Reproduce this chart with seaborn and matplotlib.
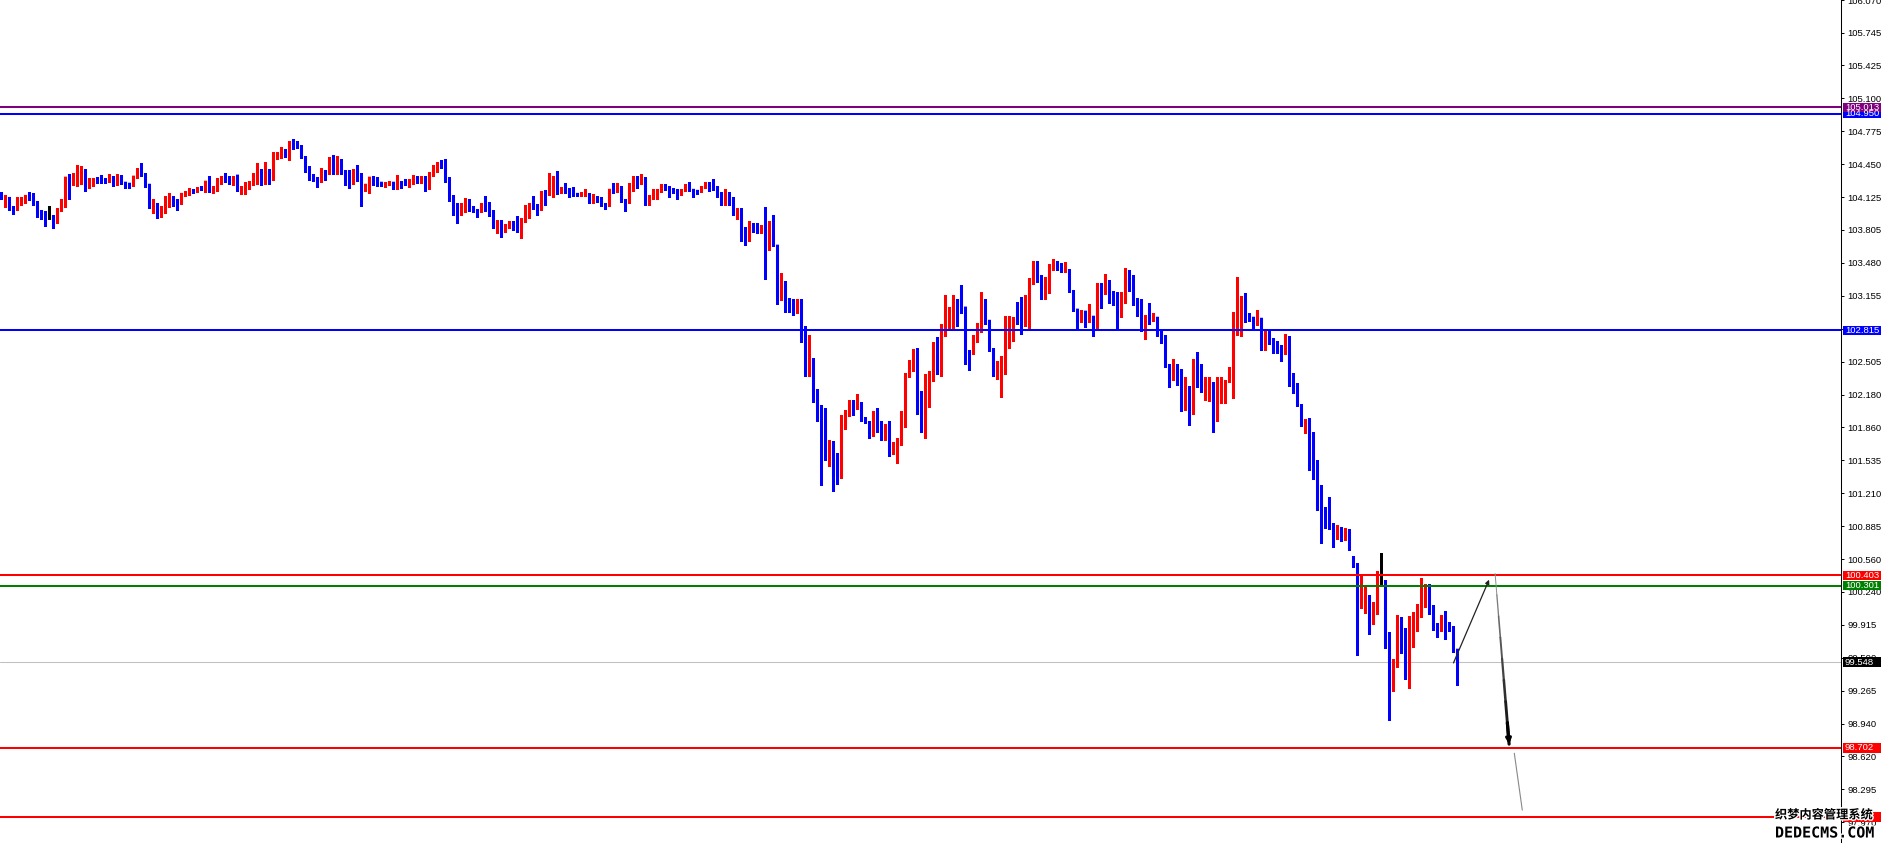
import numpy as np
import pandas as pd
import matplotlib
matplotlib.use("Agg")
import matplotlib.pyplot as plt
import seaborn as sns
from matplotlib.patches import Rectangle
from matplotlib.transforms import blended_transform_factory
import matplotlib.patheffects as pe

# ---------------- data ----------------
opens = [
    104.17, 104.12, 104.13, 104.03, 104.01, 104.09, 104.10, 104.15, 104.13, 104.07,
    103.98, 103.97, 103.94, 103.94, 103.88, 104.01, 104.04, 104.33, 104.28, 104.34,
    104.36, 104.38, 104.24, 104.28, 104.30, 104.30, 104.30, 104.29, 104.33, 104.28,
    104.34, 104.28, 104.27, 104.25, 104.33, 104.38, 104.36, 104.26, 104.06, 104.07,
    103.97, 104.01, 104.04, 104.13, 104.10, 104.07, 104.15, 104.16, 104.20, 104.19,
    104.22, 104.19, 104.29, 104.19, 104.20, 104.28, 104.32, 104.31, 104.28, 104.35,
    104.20, 104.21, 104.24, 104.26, 104.35, 104.40, 104.28, 104.38, 104.31, 104.52,
    104.53, 104.56, 104.53, 104.68, 104.66, 104.64, 104.53, 104.42, 104.34, 104.32,
    104.29, 104.39, 104.37, 104.47, 104.37, 104.46, 104.38, 104.35, 104.30, 104.40,
    104.34, 104.24, 104.25, 104.33, 104.32, 104.28, 104.24, 104.26, 104.28, 104.22,
    104.28, 104.28, 104.26, 104.28, 104.32, 104.30, 104.32, 104.28, 104.35, 104.39,
    104.46, 104.45, 104.31, 104.14, 104.04, 104.01, 104.03, 104.05, 104.03, 104.00,
    104.00, 104.07, 104.01, 104.00, 103.83, 103.88, 103.79, 103.85, 103.87, 103.86,
    103.83, 103.90, 103.93, 104.05, 104.04, 104.01, 104.18, 104.16, 104.22, 104.32,
    104.18, 104.21, 104.20, 104.19, 104.17, 104.15, 104.15, 104.16, 104.09, 104.13,
    104.09, 104.06, 104.05, 104.21, 104.19, 104.23, 104.11, 104.07, 104.20, 104.31,
    104.30, 104.32, 104.08, 104.14, 104.14, 104.20, 104.24, 104.23, 104.20, 104.19,
    104.17, 104.20, 104.24, 104.21, 104.20, 104.19, 104.23, 104.25, 104.23, 104.23,
    104.17, 104.06, 104.15, 104.06, 103.96, 103.96, 103.74, 103.71, 103.85, 103.84,
    103.79, 103.83, 103.64, 103.76, 103.66, 103.14, 103.26, 103.09, 103.08, 103.01,
    103.11, 102.77, 102.38, 102.53, 102.19, 102.05, 101.95, 101.61, 101.65, 101.56,
    101.37, 101.88, 101.98, 102.09, 102.05, 102.10, 101.94, 101.92, 101.80, 102.00,
    101.85, 101.80, 101.88, 101.63, 101.66, 101.71, 102.00, 102.37, 102.45, 102.53,
    102.13, 101.98, 102.26, 102.40, 102.58, 102.41, 102.80, 102.99, 102.99, 103.12,
    103.26, 103.05, 102.60, 102.59, 102.75, 102.81, 103.08, 102.92, 102.64, 102.41,
    102.50, 102.53, 102.67, 102.88, 102.93, 102.91, 102.89, 103.11, 103.32, 103.45,
    103.34, 103.22, 103.25, 103.44, 103.47, 103.43, 103.41, 103.42, 103.21, 103.03,
    102.91, 103.01, 102.91, 102.96, 102.84, 103.27, 103.18, 103.27, 103.19, 103.09,
    102.99, 103.10, 103.32, 103.26, 103.10, 103.08, 102.94, 102.95, 102.93, 102.95,
    102.82, 102.77, 102.46, 102.40, 102.44, 102.43, 102.04, 102.13, 102.03, 102.46,
    102.35, 102.26, 102.27, 102.30, 101.96, 102.20, 102.28, 102.32, 102.40, 102.78,
    102.88, 103.12, 102.97, 102.95, 102.87, 102.94, 102.63, 102.78, 102.73, 102.67,
    102.63, 102.59, 102.67, 102.31, 102.27, 102.09, 101.88, 101.94, 101.77, 101.50,
    101.07, 101.04, 100.98, 100.88, 100.80, 100.86, 100.78, 100.84, 100.58, 100.50,
    100.13, 100.17, 100.20, 99.92, 100.03, 100.35, 100.35, 99.73, 99.30, 99.51,
    99.91, 99.86, 99.41, 99.71, 99.95, 100.02, 100.15, 100.30, 100.10, 99.89,
    99.86, 100.00, 99.93, 99.89, 99.68,
]
highs = [
    104.18, 104.15, 104.13, 104.04, 104.13, 104.13, 104.15, 104.18, 104.17, 104.09,
    104.00, 103.99, 104.04, 103.95, 104.02, 104.11, 104.33, 104.36, 104.37, 104.44,
    104.43, 104.41, 104.32, 104.32, 104.33, 104.35, 104.32, 104.36, 104.34, 104.36,
    104.35, 104.28, 104.27, 104.34, 104.42, 104.46, 104.37, 104.26, 104.11, 104.07,
    104.04, 104.14, 104.17, 104.14, 104.11, 104.17, 104.19, 104.22, 104.21, 104.23,
    104.24, 104.29, 104.34, 104.24, 104.32, 104.34, 104.37, 104.34, 104.34, 104.35,
    104.24, 104.28, 104.29, 104.37, 104.46, 104.41, 104.47, 104.41, 104.57, 104.57,
    104.62, 104.60, 104.68, 104.70, 104.68, 104.64, 104.53, 104.43, 104.36, 104.33,
    104.42, 104.40, 104.52, 104.54, 104.53, 104.50, 104.40, 104.40, 104.41, 104.44,
    104.37, 104.26, 104.33, 104.34, 104.33, 104.28, 104.28, 104.29, 104.28, 104.35,
    104.29, 104.31, 104.31, 104.35, 104.34, 104.34, 104.34, 104.38, 104.44, 104.47,
    104.49, 104.50, 104.33, 104.15, 104.07, 104.07, 104.12, 104.11, 104.04, 104.01,
    104.07, 104.14, 104.08, 104.00, 103.90, 103.90, 103.86, 103.89, 103.89, 103.94,
    103.92, 104.05, 104.07, 104.14, 104.06, 104.19, 104.20, 104.37, 104.34, 104.39,
    104.23, 104.27, 104.22, 104.23, 104.17, 104.18, 104.21, 104.17, 104.16, 104.14,
    104.13, 104.07, 104.21, 104.27, 104.27, 104.24, 104.11, 104.27, 104.34, 104.34,
    104.36, 104.33, 104.15, 104.21, 104.21, 104.26, 104.26, 104.24, 104.22, 104.21,
    104.21, 104.26, 104.28, 104.21, 104.20, 104.24, 104.28, 104.28, 104.31, 104.24,
    104.18, 104.21, 104.18, 104.13, 104.02, 104.02, 103.83, 103.89, 103.87, 103.87,
    103.85, 104.03, 103.89, 103.95, 103.66, 103.38, 103.30, 103.13, 103.12, 103.12,
    103.12, 102.86, 102.77, 102.54, 102.24, 102.08, 102.05, 101.74, 101.73, 101.61,
    101.98, 102.03, 102.13, 102.13, 102.19, 102.11, 101.96, 101.92, 102.02, 102.05,
    101.92, 101.89, 101.92, 101.72, 101.76, 102.02, 102.40, 102.52, 102.63, 102.64,
    102.22, 102.39, 102.42, 102.70, 102.75, 102.88, 103.16, 103.05, 103.16, 103.12,
    103.26, 103.05, 102.62, 102.77, 102.89, 103.19, 103.12, 102.92, 102.64, 102.51,
    102.56, 102.96, 102.96, 102.95, 103.10, 103.14, 103.16, 103.33, 103.50, 103.50,
    103.36, 103.34, 103.47, 103.52, 103.50, 103.48, 103.49, 103.42, 103.21, 103.03,
    103.02, 103.01, 103.08, 102.96, 103.28, 103.28, 103.37, 103.31, 103.20, 103.19,
    103.19, 103.43, 103.41, 103.36, 103.13, 103.12, 102.97, 103.09, 102.99, 102.95,
    102.83, 102.77, 102.48, 102.53, 102.48, 102.44, 102.36, 102.27, 102.53, 102.60,
    102.48, 102.36, 102.36, 102.31, 102.36, 102.36, 102.33, 102.45, 103.00, 103.34,
    103.15, 103.18, 102.99, 102.95, 103.02, 102.94, 102.81, 102.82, 102.74, 102.71,
    102.67, 102.78, 102.76, 102.40, 102.30, 102.09, 101.94, 101.95, 101.81, 101.54,
    101.29, 101.08, 101.17, 100.92, 100.90, 100.88, 100.87, 100.86, 100.59, 100.52,
    100.40, 100.29, 100.21, 100.14, 100.45, 100.62, 100.36, 99.84, 99.58, 100.01,
    99.99, 99.88, 100.00, 100.04, 100.12, 100.38, 100.32, 100.32, 100.11, 99.93,
    100.01, 100.05, 99.94, 99.90, 99.68,
]
lows = [
    104.11, 104.03, 104.00, 103.96, 104.00, 104.05, 104.07, 104.10, 104.05, 103.93,
    103.91, 103.84, 103.91, 103.82, 103.87, 103.99, 104.03, 104.11, 104.25, 104.24,
    104.26, 104.19, 104.22, 104.24, 104.27, 104.27, 104.27, 104.28, 104.24, 104.25,
    104.26, 104.22, 104.22, 104.24, 104.32, 104.34, 104.23, 104.02, 103.97, 103.92,
    103.93, 103.97, 104.03, 104.04, 104.00, 104.06, 104.14, 104.15, 104.17, 104.18,
    104.20, 104.18, 104.18, 104.17, 104.19, 104.26, 104.28, 104.26, 104.25, 104.19,
    104.16, 104.16, 104.21, 104.25, 104.26, 104.25, 104.26, 104.26, 104.30, 104.50,
    104.51, 104.52, 104.49, 104.60, 104.61, 104.51, 104.38, 104.30, 104.29, 104.23,
    104.28, 104.30, 104.36, 104.36, 104.36, 104.36, 104.25, 104.22, 104.26, 104.29,
    104.04, 104.19, 104.17, 104.25, 104.24, 104.24, 104.23, 104.25, 104.21, 104.21,
    104.22, 104.25, 104.23, 104.26, 104.27, 104.27, 104.19, 104.21, 104.34, 104.38,
    104.42, 104.28, 104.09, 103.95, 103.87, 103.95, 103.98, 103.99, 103.98, 103.93,
    103.98, 103.99, 103.94, 103.82, 103.77, 103.74, 103.78, 103.82, 103.80, 103.78,
    103.73, 103.88, 103.92, 104.01, 103.95, 104.00, 104.05, 104.15, 104.13, 104.16,
    104.17, 104.17, 104.13, 104.14, 104.14, 104.14, 104.14, 104.07, 104.07, 104.08,
    104.04, 104.01, 104.04, 104.17, 104.18, 104.08, 103.99, 104.07, 104.19, 104.22,
    104.26, 104.05, 104.05, 104.11, 104.11, 104.18, 104.20, 104.13, 104.17, 104.11,
    104.15, 104.19, 104.19, 104.13, 104.16, 104.18, 104.22, 104.19, 104.20, 104.13,
    104.05, 104.05, 104.05, 103.95, 103.91, 103.70, 103.66, 103.70, 103.78, 103.77,
    103.77, 103.32, 103.61, 103.65, 103.08, 103.11, 103.00, 103.00, 102.97, 102.99,
    102.70, 102.37, 102.37, 102.11, 101.92, 101.29, 101.54, 101.48, 101.23, 101.30,
    101.36, 101.84, 101.97, 101.98, 102.04, 101.92, 101.90, 101.76, 101.78, 101.81,
    101.74, 101.74, 101.58, 101.60, 101.51, 101.69, 101.86, 102.36, 102.42, 101.99,
    101.81, 101.76, 102.06, 102.32, 102.39, 102.37, 102.76, 102.83, 102.83, 102.86,
    102.99, 102.48, 102.43, 102.58, 102.70, 102.80, 102.88, 102.61, 102.37, 102.34,
    102.16, 102.39, 102.64, 102.71, 102.88, 102.78, 102.86, 102.84, 103.27, 103.29,
    103.12, 103.12, 103.18, 103.41, 103.41, 103.39, 103.39, 103.19, 103.01, 102.84,
    102.90, 102.85, 102.90, 102.76, 102.83, 103.04, 103.17, 103.09, 103.07, 102.84,
    102.95, 103.09, 103.20, 103.07, 102.96, 102.81, 102.73, 102.88, 102.91, 102.76,
    102.69, 102.45, 102.26, 102.33, 102.28, 102.02, 102.03, 101.88, 101.99, 102.26,
    102.21, 102.13, 102.12, 101.81, 101.92, 102.10, 102.10, 102.31, 102.15, 102.77,
    102.76, 102.90, 102.91, 102.83, 102.87, 102.62, 102.62, 102.68, 102.59, 102.59,
    102.51, 102.58, 102.27, 102.20, 102.07, 101.87, 101.80, 101.44, 101.35, 101.05,
    100.72, 100.87, 100.86, 100.68, 100.76, 100.74, 100.75, 100.65, 100.48, 99.62,
    100.08, 100.03, 99.82, 99.92, 100.02, 100.32, 99.69, 98.98, 99.26, 99.50,
    99.64, 99.38, 99.29, 99.70, 99.85, 99.99, 100.09, 100.02, 99.86, 99.80,
    99.85, 99.78, 99.85, 99.65, 99.32,
]
closes = [
    104.12, 104.13, 104.01, 104.01, 104.10, 104.12, 104.15, 104.12, 104.06, 103.98,
    103.97, 103.94, 103.94, 103.88, 104.02, 104.05, 104.33, 104.28, 104.35, 104.37,
    104.38, 104.24, 104.29, 104.30, 104.29, 104.29, 104.29, 104.33, 104.28, 104.34,
    104.27, 104.27, 104.26, 104.34, 104.38, 104.35, 104.25, 104.05, 104.08, 103.97,
    104.02, 104.05, 104.13, 104.08, 104.07, 104.17, 104.17, 104.20, 104.19, 104.22,
    104.21, 104.29, 104.19, 104.21, 104.29, 104.32, 104.30, 104.28, 104.30, 104.20,
    104.22, 104.25, 104.27, 104.35, 104.39, 104.28, 104.38, 104.31, 104.53, 104.55,
    104.56, 104.53, 104.68, 104.65, 104.62, 104.52, 104.41, 104.33, 104.31, 104.29,
    104.39, 104.37, 104.47, 104.38, 104.47, 104.37, 104.34, 104.31, 104.40, 104.33,
    104.25, 104.26, 104.33, 104.32, 104.28, 104.25, 104.27, 104.28, 104.22, 104.27,
    104.26, 104.26, 104.29, 104.32, 104.30, 104.32, 104.28, 104.36, 104.39, 104.45,
    104.44, 104.30, 104.14, 104.05, 104.01, 104.03, 104.05, 104.03, 103.99, 103.98,
    104.06, 104.00, 103.99, 103.83, 103.88, 103.79, 103.86, 103.87, 103.85, 103.83,
    103.91, 103.95, 104.05, 104.03, 104.01, 104.18, 104.16, 104.23, 104.32, 104.19,
    104.20, 104.19, 104.18, 104.16, 104.15, 104.16, 104.16, 104.09, 104.13, 104.09,
    104.06, 104.05, 104.21, 104.19, 104.23, 104.09, 104.08, 104.21, 104.31, 104.29,
    104.32, 104.08, 104.14, 104.16, 104.20, 104.25, 104.22, 104.20, 104.18, 104.17,
    104.20, 104.24, 104.20, 104.19, 104.18, 104.23, 104.25, 104.21, 104.22, 104.17,
    104.06, 104.15, 104.06, 103.96, 103.97, 103.74, 103.71, 103.85, 103.83, 103.79,
    103.83, 103.64, 103.76, 103.66, 103.14, 103.27, 103.08, 103.08, 103.01, 103.11,
    102.76, 102.38, 102.53, 102.20, 102.04, 101.94, 101.61, 101.65, 101.37, 101.37,
    101.89, 101.99, 102.09, 102.05, 102.10, 101.93, 101.91, 101.80, 102.00, 101.85,
    101.80, 101.88, 101.63, 101.66, 101.71, 102.01, 102.37, 102.45, 102.53, 102.12,
    101.98, 102.26, 102.40, 102.58, 102.42, 102.81, 102.99, 103.01, 103.02, 102.88,
    103.04, 102.59, 102.58, 102.76, 102.81, 103.08, 102.92, 102.63, 102.41, 102.51,
    102.54, 102.68, 102.88, 102.94, 102.90, 102.89, 103.12, 103.32, 103.45, 103.33,
    103.23, 103.25, 103.45, 103.47, 103.42, 103.41, 103.42, 103.20, 103.02, 102.91,
    103.01, 102.91, 102.96, 102.84, 103.27, 103.18, 103.27, 103.18, 103.08, 102.99,
    103.11, 103.32, 103.25, 103.09, 103.07, 102.94, 102.95, 102.93, 102.95, 102.76,
    102.76, 102.46, 102.40, 102.44, 102.42, 102.04, 102.13, 102.03, 102.46, 102.35,
    102.26, 102.28, 102.30, 101.97, 102.20, 102.29, 102.32, 102.41, 102.78, 102.88,
    103.13, 102.96, 102.94, 102.87, 102.94, 102.63, 102.78, 102.72, 102.66, 102.60,
    102.59, 102.66, 102.31, 102.26, 102.08, 101.88, 101.94, 101.76, 101.49, 101.06,
    101.03, 100.98, 100.88, 100.80, 100.86, 100.78, 100.84, 100.66, 100.50, 100.14,
    100.19, 100.20, 99.92, 100.03, 100.35, 100.35, 99.72, 99.30, 99.52, 99.91,
    99.86, 99.41, 99.72, 99.96, 100.03, 100.16, 100.30, 100.09, 99.88, 99.81,
    100.00, 99.93, 99.88, 99.67, 99.548,
]

y_ticks = [106.070, 105.745, 105.425, 105.100, 104.775, 104.450, 104.125, 103.805,
           103.480, 103.155, 102.830, 102.505, 102.180, 101.860, 101.535, 101.210,
           100.885, 100.560, 100.240, 99.915, 99.590, 99.265, 98.940, 98.620,
           98.295, 97.970]

# horizontal levels (price, line colour, box colour)
level_prices = [104.950, 105.013, 102.815, 100.403, 100.301, 99.548, 98.702, 98.024]
level_line_colors = ["#0000FF", "#800080", "#0000FF", "#FF0000", "#008000",
                     "#C0C0C0", "#FF0000", "#FF0000"]
level_box_colors = ["#0000FF", "#800080", "#0000FF", "#FF0000", "#008000",
                    "#000000", "#FF0000", "#FF0000"]

# hand-drawn projection arrows: (bar index, price) start -> end
arrow_starts = [(363.0, 99.54), (373.4, 100.42), (378.2, 98.65)]
arrow_ends = [(371.9, 100.36), (376.9, 98.74), (380.2, 98.09)]

y_min, y_max = 97.766, 106.063

# ---------------- drawing ----------------
sns.set_style("white")
plt.rcParams["font.family"] = ["Liberation Sans", "DejaVu Sans"]

W, H = 1883, 843
AX_W = 1841
fig = plt.figure(figsize=(W / 100, H / 100), dpi=100)
fig.patch.set_facecolor("white")
ax = fig.add_axes([0, 0, AX_W / W, 1])
ax.set_facecolor("white")

df = pd.DataFrame({"open": opens, "high": highs, "low": lows, "close": closes})
df["idx"] = np.arange(len(df))
colors = np.where(df["close"] > df["open"], "#FF0000",
                  np.where(df["close"] < df["open"], "#0000FF", "#000000"))

ax.vlines(df["idx"], df["low"], df["high"], colors=colors, linewidth=0.75,
          antialiased=False, zorder=3)
body_bottom = np.minimum(df["open"], df["close"])
body_h = np.maximum(np.abs(df["close"] - df["open"]), 0.0099)
ax.bar(df["idx"], body_h, bottom=body_bottom, width=0.76, color=colors,
       linewidth=0, antialiased=True, snap=False, zorder=3)

for p, c in zip(level_prices, level_line_colors):
    lw = 0.75 if c == "#C0C0C0" else 1.45
    ax.axhline(p, color=c, linewidth=lw, zorder=2 if c == "#C0C0C0" else 4)

# arrows
s, e = arrow_starts[0], arrow_ends[0]
ax.annotate("", xy=e, xytext=s,
            arrowprops=dict(arrowstyle="-|>", color="#222222", lw=0.9,
                            mutation_scale=6, shrinkA=0, shrinkB=0), zorder=6)
# tapered main arrow: thin grey at top, thick black toward the head
s, e = arrow_starts[1], arrow_ends[1]
fr = np.linspace(0, 1, 9)
xs = s[0] + (e[0] - s[0]) * fr
ys = s[1] + (e[1] - s[1]) * fr
for j in range(len(fr) - 1):
    t = (j + 0.5) / (len(fr) - 1)
    shade = 0.6 * (1 - t)
    ax.plot(xs[j:j + 2], ys[j:j + 2], color=(shade, shade, shade),
            lw=0.6 + 1.8 * t, solid_capstyle="round", zorder=6)
ax.annotate("", xy=e, xytext=(xs[-2], ys[-2]),
            arrowprops=dict(arrowstyle="-|>", color="#000000", lw=2.2,
                            mutation_scale=7, shrinkA=0, shrinkB=0), zorder=6)
s, e = arrow_starts[2], arrow_ends[2]
ax.plot([s[0], e[0]], [s[1], e[1]], color="#888888", lw=0.8, zorder=6)

ax.set_xlim(-0.375, (AX_W - 1.5) / 4)
ax.set_ylim(y_min, y_max)

ax.set_xticks([])
ax.yaxis.tick_right()
ax.set_yticks(y_ticks)
ax.set_yticklabels([f"{t:.3f}" for t in y_ticks])
ax.tick_params(axis="y", direction="out", length=2.2, width=0.7, pad=2.2,
               labelsize=6.8, colors="black", right=True, left=False)
for side in ["left", "top", "bottom"]:
    ax.spines[side].set_visible(False)
ax.spines["right"].set_visible(True)
ax.spines["right"].set_color("black")
ax.spines["right"].set_linewidth(0.75)

# price label boxes on the right axis
trans = blended_transform_factory(ax.transAxes, ax.transData)
bx0 = 1843 / AX_W
bx1 = 1881 / AX_W
half_h = 4.8 / 101.6
for p, bc in zip(level_prices, level_box_colors):
    ax.add_patch(Rectangle((bx0, p - half_h), bx1 - bx0, 2 * half_h, transform=trans,
                           facecolor=bc, edgecolor="none", clip_on=False, zorder=10))
    ax.text(1845 / AX_W, p, f"{p:.3f}", transform=trans, color="white",
            fontsize=6.8, va="center", ha="left", clip_on=False, zorder=11)

# watermark
stroke = [pe.withStroke(linewidth=2.0, foreground="white")]
fig.text(1775 / W, 1 - 815 / H, "织梦内容管理系统", fontsize=8.8, color="black",
         family=["Noto Sans CJK SC", "DejaVu Sans"], weight="bold",
         va="center", ha="left", path_effects=stroke, zorder=20)
fig.text(1775 / W, 1 - 833 / H, "DEDECMS.COM", fontsize=10.8, color="black",
         family=["DejaVu Sans Mono"], weight="bold",
         va="center", ha="left", path_effects=stroke, zorder=20)

fig.savefig("out.png", dpi=100, facecolor="white")
